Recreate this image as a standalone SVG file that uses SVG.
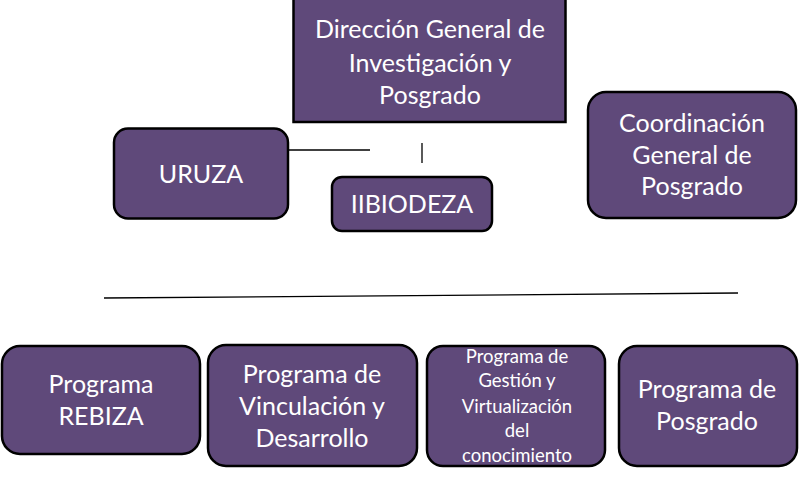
<svg xmlns="http://www.w3.org/2000/svg" width="800" height="482" viewBox="0 0 800 482">
<style>
.box{fill:#5f497a;stroke:#000;stroke-width:2.5}
.t{font-family:Lato,"Liberation Sans",sans-serif;font-size:25px;fill:#fff;text-anchor:middle}
.s{font-size:18.5px}
.ln{stroke:#000;stroke-width:1.3;fill:none}
</style>
<rect width="800" height="482" fill="#fff"/>
<g id="connectors">
<line class="ln" x1="288" y1="150" x2="370" y2="150"/>
<line class="ln" x1="422" y1="143" x2="422" y2="163"/>
<line class="ln" x1="104" y1="298" x2="738" y2="293"/>
</g>
<g id="direccion">
<rect class="box" x="293.5" y="-2" width="272" height="124"/>
<text class="t" x="430" y="38">Dirección General de</text>
<text class="t" x="430" y="72">Investigación y</text>
<text class="t" x="430" y="104">Posgrado</text>
</g>
<g id="uruza">
<rect class="box" x="114" y="128.5" width="174" height="90" rx="14"/>
<text class="t" x="201" y="183">URUZA</text>
</g>
<g id="iibiodeza">
<rect class="box" x="332" y="177" width="160" height="54" rx="10"/>
<text class="t" x="412" y="213">IIBIODEZA</text>
</g>
<g id="coordinacion">
<rect class="box" x="588" y="92" width="208" height="126" rx="18"/>
<text class="t" x="692" y="132">Coordinación</text>
<text class="t" x="692" y="164">General de</text>
<text class="t" x="692" y="195">Posgrado</text>
</g>
<g id="rebiza">
<rect class="box" x="2" y="346" width="198" height="108" rx="18"/>
<text class="t" x="101" y="393">Programa</text>
<text class="t" x="101" y="425">REBIZA</text>
</g>
<g id="vinculacion">
<rect class="box" x="208" y="345" width="209" height="121" rx="18"/>
<text class="t" x="312" y="383">Programa de</text>
<text class="t" x="312" y="415">Vinculación y</text>
<text class="t" x="312" y="447">Desarrollo</text>
</g>
<g id="gestion">
<rect class="box" x="427" y="346" width="178" height="120" rx="16"/>
<text class="t s" x="517" y="363">Programa de</text>
<text class="t s" x="517" y="387">Gestión y</text>
<text class="t s" x="517" y="413">Virtualización</text>
<text class="t s" x="517" y="437">del</text>
<text class="t s" x="517" y="462">conocimiento</text>
</g>
<g id="posgrado">
<rect class="box" x="619" y="346" width="178" height="120" rx="18"/>
<text class="t" x="707" y="398">Programa de</text>
<text class="t" x="707" y="430">Posgrado</text>
</g>
</svg>
